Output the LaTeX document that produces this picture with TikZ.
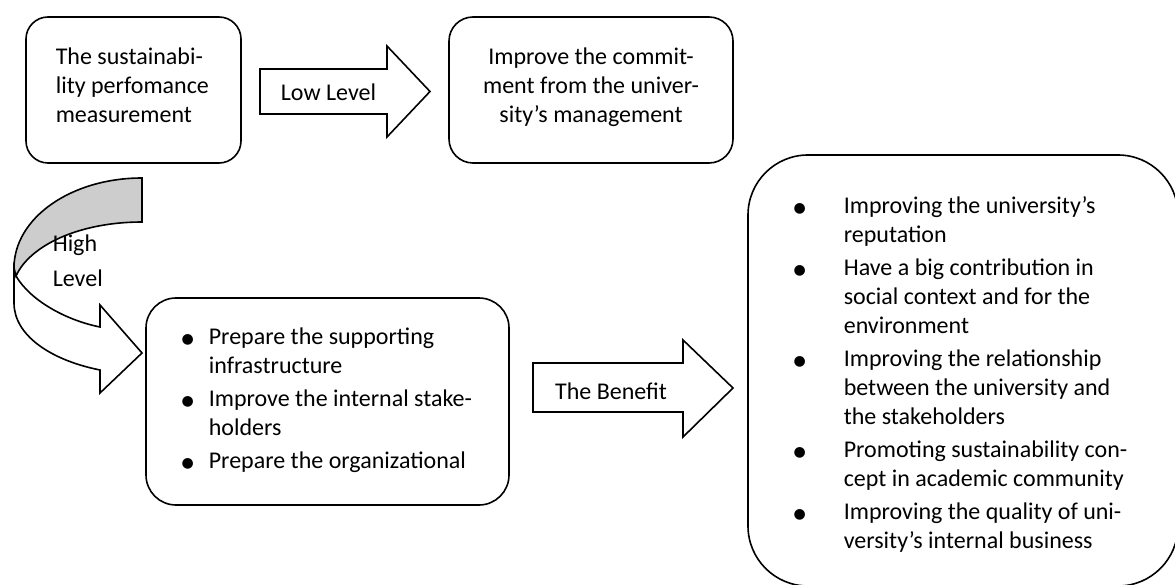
\documentclass[tikz,border=0pt]{standalone}
\usepackage{fontspec}
\setmainfont{Carlito}
\newfontfamily\symfont{DejaVu Sans}
\definecolor{bandgray}{RGB}{205,205,205}
\newcommand{\bul}{\raisebox{1pt}{\symfont\fontsize{14}{14}\selectfont ●}}
\begin{document}
\begin{tikzpicture}[x=1pt,y=-1pt,
  line width=1.6pt,
  boxnode/.style={draw, line width=1.6pt, inner sep=0pt, fill=white},
  txt/.style={inner sep=0pt, font=\fontsize{24}{29}\selectfont, align=left},
  blockarrow/.style={draw, line width=1.6pt, fill=white, line join=miter},
]
\useasboundingbox (0,0) rectangle (1175,585);

% boxes
\node[boxnode, rounded corners=22pt, minimum width=215pt, minimum height=146pt] (b1) at (133.5,90) {};
\node[boxnode, rounded corners=24pt, minimum width=284pt, minimum height=146pt] (b2) at (591,90) {};
\node[boxnode, rounded corners=30pt, minimum width=363pt, minimum height=207pt] (b3) at (327.5,401.5) {};
\node[boxnode, rounded corners=60pt, minimum width=430pt, minimum height=431pt] (b4) at (963,370.5) {};

% block arrows
\draw[blockarrow] (260,69) -- (387,69) -- (387,46) -- (430,91.5) -- (387,137) -- (387,114) -- (260,114) -- cycle;
\draw[blockarrow] (533,363) -- (683,363) -- (683,340) -- (733,388) -- (683,437) -- (683,412) -- (533,412) -- cycle;

% curved arrow
\draw[blockarrow] (16,276) .. controls (30,300) and (65,320) .. (100,327) -- (100,305) -- (142,353) -- (100,393) -- (100,370)
   .. controls (50,360) and (14,335) .. (14,303) -- (14,268) -- cycle;
\draw[blockarrow, fill=bandgray] (142,178) .. controls (71,178) and (14,218) .. (14,268) -- (16,276)
   .. controls (30,245) and (80,222) .. (142,222) -- cycle;

% texts
\node[txt, anchor=north west] (t1) at (55,43.7) {\strut The sustainabi-\\lity perfomance\\measurement};
\node[txt, align=center, anchor=north] (t2) at (591,43.7) {\strut Improve the commit-\\ment from the univer-\\sity’s management};
\node[txt] (lowlevel) at (328.5,92) {Low Level};
\node[txt] (benefit) at (611,391) {The Benefit};
\node[txt, anchor=north west] (high) at (52,230.2) {\strut High\\[6pt]Level};

\node[txt, anchor=north west] (t3) at (208,323.7) {\strut\llap{\bul\hspace{15pt}}Prepare the supporting\\
infrastructure\\[4pt]
\llap{\bul\hspace{15pt}}Improve the internal stake-\\
holders\\[4pt]
\llap{\bul\hspace{15pt}}Prepare the organizational};

\node[txt, anchor=north west] (t4) at (843,192.7) {\strut\llap{\bul\hspace{38pt}}Improving the university’s\\
reputation\\[4pt]
\llap{\bul\hspace{38pt}}Have a big contribution in\\
social context and for the\\
environment\\[4pt]
\llap{\bul\hspace{38pt}}Improving the relationship\\
between the university and\\
the stakeholders\\[4pt]
\llap{\bul\hspace{38pt}}Promoting sustainability con-\\
cept in academic community\\[4pt]
\llap{\bul\hspace{38pt}}Improving the quality of uni-\\
versity’s internal business};
\end{tikzpicture}
\end{document}
